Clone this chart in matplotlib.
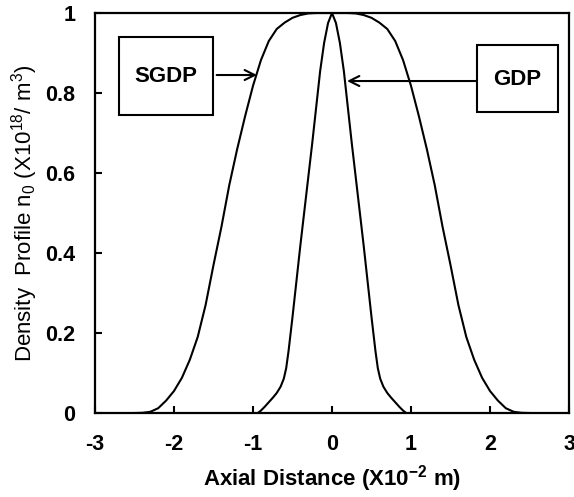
import matplotlib
matplotlib.use("Agg")
import matplotlib.pyplot as plt
import numpy as np

plt.rcParams['font.family'] = ['Liberation Sans', 'DejaVu Sans']
plt.rcParams['mathtext.fontset'] = 'custom'
plt.rcParams['mathtext.rm'] = 'Liberation Sans'
plt.rcParams['mathtext.it'] = 'Liberation Sans'
plt.rcParams['mathtext.bf'] = 'Liberation Sans:bold'

# GDP profile (right half, mirrored for left half)
gdp_x_half = [0.00, 0.05, 0.10, 0.15, 0.20, 0.25, 0.30, 0.35, 0.40, 0.45,
              0.50, 0.55, 0.58, 0.61, 0.65, 0.70, 0.75, 0.80, 0.85, 0.90, 0.94]
gdp_y_half = [1.000, 0.975, 0.925, 0.855, 0.765, 0.675, 0.590, 0.505, 0.420, 0.330,
              0.240, 0.155, 0.112, 0.086, 0.066, 0.050, 0.038, 0.027, 0.016, 0.006, 0.000]

# SGDP profile (right half, mirrored for left half)
sgdp_x_half = [0.0, 0.1, 0.2, 0.3, 0.4, 0.5, 0.6, 0.7, 0.8, 0.9, 1.0, 1.1, 1.2,
               1.3, 1.4, 1.5, 1.6, 1.7, 1.8, 1.9, 2.0, 2.1, 2.2, 2.3, 2.4, 2.5]
sgdp_y_half = [1.000, 1.000, 1.000, 0.999, 0.995, 0.988, 0.976, 0.960, 0.930, 0.882,
               0.818, 0.742, 0.660, 0.570, 0.465, 0.370, 0.270, 0.190, 0.133, 0.088,
               0.055, 0.031, 0.012, 0.003, 0.0005, 0.000]

x_ticks = [-3, -2, -1, 0, 1, 2, 3]
y_ticks = [0, 0.2, 0.4, 0.6, 0.8, 1.0]
y_tick_labels = ['0', '0.2', '0.4', '0.6', '0.8', '1']

def mirror(xh, yh):
    xh = np.asarray(xh, float)
    yh = np.asarray(yh, float)
    x = np.concatenate([-xh[:0:-1], xh])
    y = np.concatenate([yh[:0:-1], yh])
    return x, y

gx, gy = mirror(gdp_x_half, gdp_y_half)
sx, sy = mirror(sgdp_x_half, sgdp_y_half)

fig = plt.figure(figsize=(5.74, 4.97), dpi=100)
ax = fig.add_axes([0.1655, 0.169, 0.9913 - 0.1655, 0.9738 - 0.169])

ax.plot(sx, sy, color='black', lw=1.5)
ax.plot(gx, gy, color='black', lw=1.5)

ax.set_xlim(-3, 3)
ax.set_ylim(0, 1)
ax.set_xticks(x_ticks)
ax.set_xticklabels([str(v) for v in x_ticks])
ax.set_yticks(y_ticks)
ax.set_yticklabels(y_tick_labels)
for s in ax.spines.values():
    s.set_linewidth(1.6)
ax.tick_params(direction='in', length=5, width=1.5, labelsize=15.5)
ax.tick_params(axis='x', pad=15)
ax.tick_params(axis='y', pad=14)
for lab in ax.get_xticklabels() + ax.get_yticklabels():
    lab.set_fontweight('bold')

ax.set_xlabel(r'Axial Distance (X10$^{\mathbf{-2}}$ m)', fontsize=16,
              fontweight='bold', labelpad=6)
ax.set_ylabel(r'Density  Profile n$_{\mathregular{0}}$ (X10$^{\mathregular{18}}$/ m$^{\mathregular{3}}$)',
              fontsize=16, labelpad=4)

# annotation boxes
ax.add_patch(plt.Rectangle((-2.70, 0.745), 1.19, 0.195, fill=False, ec='black', lw=1.5))
ax.text(-2.105, 0.842, 'SGDP', ha='center', va='center', fontsize=16, fontweight='bold')
ax.add_patch(plt.Rectangle((1.83, 0.752), 1.03, 0.168, fill=False, ec='black', lw=1.5))
ax.text(2.345, 0.835, 'GDP', ha='center', va='center', fontsize=16, fontweight='bold')

ax.annotate('', xy=(-0.95, 0.845), xytext=(-1.46, 0.845),
            arrowprops=dict(arrowstyle='->', color='black', lw=1.5, mutation_scale=18,
                            shrinkA=0, shrinkB=0))
ax.annotate('', xy=(0.19, 0.83), xytext=(1.83, 0.83),
            arrowprops=dict(arrowstyle='->', color='black', lw=1.5, mutation_scale=18,
                            shrinkA=0, shrinkB=0))

fig.savefig('out.png', dpi=100)
